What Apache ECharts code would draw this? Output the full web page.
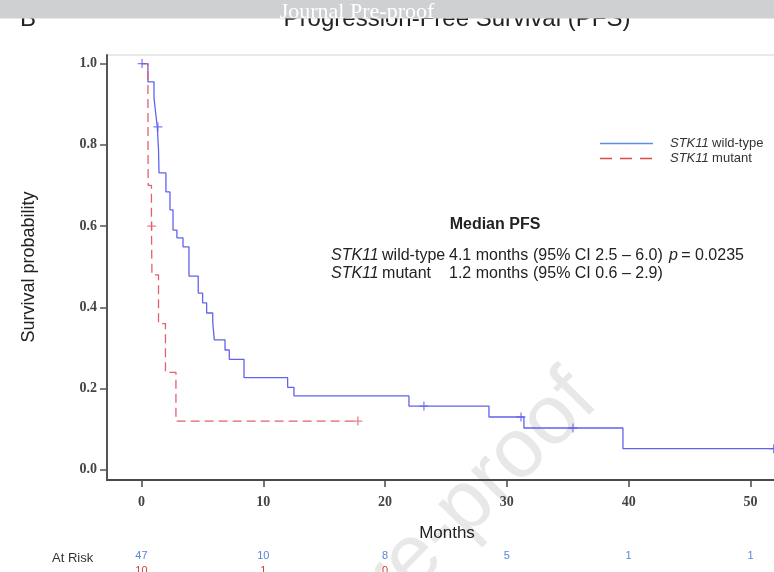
<!DOCTYPE html>
<html>
<head>
<meta charset="utf-8">
<script src="https://cdn.jsdelivr.net/npm/echarts@6/dist/echarts.min.js"></script>
<style>
  html, body { margin: 0; padding: 0; background: #ffffff; }
  #chart { width: 774px; height: 572px; }
</style>
</head>
<body>
<div id="chart"></div>
<script>
// Kaplan–Meier estimates: time in months, survival probability after each step
const wildTypeTime = [0, 0.53, 1.03, 1.19, 1.30, 1.40, 1.44, 2.01, 2.34, 2.59, 2.91, 3.41, 3.90,
                      4.66, 5.02, 5.35, 5.85, 5.98, 6.86, 7.21, 8.42, 12.0, 12.52, 21.96, 28.53,
                      31.40, 39.53, 52.5];
const wildTypeSurv = [1.0, 0.955, 0.915, 0.872, 0.844, 0.787, 0.731, 0.684, 0.640, 0.590, 0.571, 0.549, 0.477,
                      0.435, 0.411, 0.386, 0.364, 0.320, 0.295, 0.272, 0.227, 0.203, 0.182, 0.157, 0.130,
                      0.103, 0.052, 0.052];
const wildTypeCensorTime = [0.05, 1.35, 23.19, 31.16, 35.43, 51.9];
const wildTypeCensorSurv = [1.0, 0.844, 0.157, 0.130, 0.103, 0.052];

const mutantTime = [0, 0.53, 0.54, 0.55, 0.82, 0.86, 1.40, 1.97, 2.83, 17.77];
const mutantSurv = [1.0, 0.9, 0.8, 0.7, 0.6, 0.48, 0.36, 0.24, 0.12, 0.12];
const mutantCensorTime = [0.84, 17.77];
const mutantCensorSurv = [0.6, 0.12];

// Axis ticks and number-at-risk table
const xTicks = [0, 10, 20, 30, 40, 50];
const yTicks = [0, 0.2, 0.4, 0.6, 0.8, 1.0];
const atRiskWildType = [47, 10, 8, 5, 1, 1];
const atRiskMutant = [10, 1, 0];

const BLUE = '#6262f0';
const RED = '#e2606e';
const SANS = '"Liberation Sans", Arial, sans-serif';
const SERIF = '"Liberation Serif", "Times New Roman", serif';

function pairs(xs, ys) { return xs.map((x, i) => [x, ys[i]]); }

const crossPath = 'path://M0,5L10,5M5,0L5,10';

const chart = echarts.init(document.getElementById('chart'), null, { renderer: 'canvas' });

chart.setOption({
  animation: false,
  backgroundColor: '#ffffff',
  grid: {
    left: 107, top: 55, width: 680, height: 425,
    outerBoundsMode: 'none', containLabel: false,
    show: true, borderColor: '#d4d4d4', borderWidth: 1, backgroundColor: 'transparent'
  },
  xAxis: {
    type: 'value', min: -2.83, max: 53,
    axisLine: { onZero: false, lineStyle: { color: '#4a4a4a', width: 2 } },
    axisTick: { customValues: xTicks, length: 7, lineStyle: { color: '#4a4a4a', width: 1.5 } },
    splitLine: { show: false },
    axisLabel: {
      customValues: xTicks,
      margin: 14,
      formatter: function (v) {
        const i = xTicks.indexOf(v);
        const red = i < atRiskMutant.length ? '{r|' + atRiskMutant[i] + '}' : '{r| }';
        return '{t|' + v + '}\n{g| }\n{b|' + atRiskWildType[i] + '}\n' + red;
      },
      rich: {
        t: { fontFamily: SERIF, fontSize: 14, fontWeight: 'bold', color: '#444', lineHeight: 16 },
        g: { fontSize: 10, lineHeight: 39 },
        b: { fontFamily: SANS, fontSize: 11, color: '#5a86d8', lineHeight: 14 },
        r: { fontFamily: SANS, fontSize: 11, color: '#d83a3a', lineHeight: 15 }
      }
    },
    name: 'Months', nameLocation: 'middle', nameGap: 45, nameMoveOverlap: false,
    nameTextStyle: { fontFamily: SANS, fontSize: 17, color: '#222' }
  },
  yAxis: {
    type: 'value', min: -0.025, max: 1.021,
    axisLine: { onZero: false, lineStyle: { color: '#555', width: 2 } },
    axisTick: { customValues: yTicks, length: 7, lineStyle: { color: '#555', width: 1.5 } },
    splitLine: { show: false },
    axisLabel: {
      customValues: yTicks, margin: 10,
      formatter: v => v.toFixed(1),
      fontFamily: SERIF, fontSize: 14, fontWeight: 'bold', color: '#444'
    }
  },
  series: [
    {
      name: 'STK11 wild-type', type: 'line', step: 'end', showSymbol: false,
      data: pairs(wildTypeTime, wildTypeSurv),
      lineStyle: { color: BLUE, width: 1.3 }, z: 3
    },
    {
      name: 'STK11 mutant', type: 'line', step: 'end', showSymbol: false,
      data: pairs(mutantTime, mutantSurv),
      lineStyle: { color: RED, width: 1.3, type: [9, 5] }, z: 3
    },
    {
      type: 'scatter', symbol: crossPath, symbolSize: 9,
      data: pairs(wildTypeCensorTime, wildTypeCensorSurv),
      itemStyle: { color: 'transparent', borderColor: BLUE, borderWidth: 1.3 }, z: 4
    },
    {
      type: 'scatter', symbol: crossPath, symbolSize: 9,
      data: pairs(mutantCensorTime, mutantCensorSurv),
      itemStyle: { color: 'transparent', borderColor: RED, borderWidth: 1.3 }, z: 4
    }
  ],
  graphic: [
    // diagonal watermark behind the plot
    {
      type: 'text', x: 584, y: 387, rotation: 0.79, z: 0,
      style: { text: 'Journal Pre-proof', font: '84px ' + SANS, fill: '#e8e8e8', align: 'right', verticalAlign: 'middle' }
    },
    // panel letter and title
    { type: 'text', x: 28, y: 19, z: 5,
      style: { text: 'B', font: '24px ' + SANS, fill: '#222', align: 'center', verticalAlign: 'middle' } },
    { type: 'text', x: 457, y: 19, z: 5,
      style: { text: 'Progression-Free Survival (PFS)', font: '24px ' + SANS, fill: '#222', align: 'center', verticalAlign: 'middle' } },
    // banner strip across the top
    { type: 'rect', shape: { x: 0, y: 0, width: 774, height: 18.5 }, z: 6, style: { fill: '#cfd0d2' } },
    { type: 'text', x: 357, y: 12, z: 7,
      style: { text: 'Journal Pre-proof', font: '22px ' + SERIF, fill: '#ffffff', align: 'center', verticalAlign: 'middle' } },
    // y-axis title
    { type: 'text', x: 29, y: 267, rotation: Math.PI / 2, z: 5,
      style: { text: 'Survival probability', font: '18px ' + SANS, fill: '#222', align: 'center', verticalAlign: 'middle' } },
    // legend
    { type: 'line', shape: { x1: 600, y1: 143.5, x2: 653, y2: 143.5 }, z: 5, style: { stroke: '#5b8de0', lineWidth: 1.5 } },
    { type: 'line', shape: { x1: 600, y1: 158.5, x2: 653, y2: 158.5 }, z: 5, style: { stroke: '#e04a4a', lineWidth: 1.5, lineDash: [12, 8] } },
    { type: 'text', x: 670, y: 143.5, z: 5,
      style: { text: '{i|STK11} {n|wild-type}', verticalAlign: 'middle',
        rich: { i: { fontFamily: SANS, fontSize: 13, fontStyle: 'italic', fill: '#333' }, n: { fontFamily: SANS, fontSize: 13, fill: '#333' } } } },
    { type: 'text', x: 670, y: 158.5, z: 5,
      style: { text: '{i|STK11} {n|mutant}', verticalAlign: 'middle',
        rich: { i: { fontFamily: SANS, fontSize: 13, fontStyle: 'italic', fill: '#333' }, n: { fontFamily: SANS, fontSize: 13, fill: '#333' } } } },
    // median summary
    { type: 'text', x: 495, y: 225, z: 5,
      style: { text: 'Median PFS', font: 'bold 16px ' + SANS, fill: '#222', align: 'center', verticalAlign: 'middle' } },
    { type: 'text', x: 331, y: 256, z: 5,
      style: { text: '{i|STK11} {n|wild-type}', verticalAlign: 'middle',
        rich: { i: { fontFamily: SANS, fontSize: 16, fontStyle: 'italic', fill: '#222' }, n: { fontFamily: SANS, fontSize: 16, fill: '#222' } } } },
    { type: 'text', x: 331, y: 274, z: 5,
      style: { text: '{i|STK11} {n|mutant}', verticalAlign: 'middle',
        rich: { i: { fontFamily: SANS, fontSize: 16, fontStyle: 'italic', fill: '#222' }, n: { fontFamily: SANS, fontSize: 16, fill: '#222' } } } },
    { type: 'text', x: 449, y: 256, z: 5,
      style: { text: '4.1 months', font: '16px ' + SANS, fill: '#222', verticalAlign: 'middle' } },
    { type: 'text', x: 449, y: 274, z: 5,
      style: { text: '1.2 months', font: '16px ' + SANS, fill: '#222', verticalAlign: 'middle' } },
    { type: 'text', x: 533, y: 256, z: 5,
      style: { text: '(95% CI 2.5 \u2013 6.0)', font: '16px ' + SANS, fill: '#222', verticalAlign: 'middle' } },
    { type: 'text', x: 533, y: 274, z: 5,
      style: { text: '(95% CI 0.6 \u2013 2.9)', font: '16px ' + SANS, fill: '#222', verticalAlign: 'middle' } },
    { type: 'text', x: 669, y: 256, z: 5,
      style: { text: '{i|p} {n|= 0.0235}', verticalAlign: 'middle',
        rich: { i: { fontFamily: SANS, fontSize: 16, fontStyle: 'italic', fill: '#222' }, n: { fontFamily: SANS, fontSize: 16, fill: '#222' } } } },
    // number-at-risk row label
    { type: 'text', x: 52, y: 558, z: 5,
      style: { text: 'At Risk', font: '13px ' + SANS, fill: '#333', verticalAlign: 'middle' } }
  ]
});
</script>
</body>
</html>
